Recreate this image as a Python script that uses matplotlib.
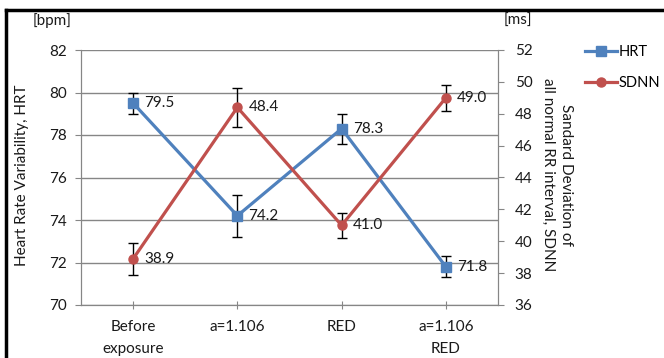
import numpy as np
import matplotlib.pyplot as plt
from matplotlib.lines import Line2D

plt.rcParams['font.family'] = ['Lato', 'DejaVu Sans']
plt.rcParams['font.size'] = 11

categories = ["Before\nexposure", "a=1.106", "RED", "a=1.106\nRED"]
hrt = [79.5, 74.2, 78.3, 71.8]
hrt_err = [0.5, 1.0, 0.7, 0.5]
sdnn = [38.9, 48.4, 41.0, 49.0]
sdnn_err = [1.0, 1.2, 0.8, 0.8]

blue = "#4F81BD"
red = "#C0504D"
grey = "#868686"
txt = "#1a1a1a"

fig = plt.figure(figsize=(6.64, 3.58), dpi=100)
ax = fig.add_axes([81/664, 53/358, 417/664, 255/358])
ax2 = ax.twinx()

x = np.arange(len(categories))

# HRT on the left axis
ax.errorbar(x, hrt, yerr=hrt_err, fmt='none', ecolor='black', elinewidth=1,
            capsize=3.5, capthick=1, zorder=3)
ax.plot(x, hrt, color=blue, lw=2.3, marker='s', ms=6.5, zorder=4)
for xi, v in zip(x, hrt):
    ax.annotate(f"{v:.1f}", (xi, v), xytext=(8, 0), textcoords='offset points',
                ha='left', va='center', color=txt)

# SDNN on the right axis
ax2.errorbar(x, sdnn, yerr=sdnn_err, fmt='none', ecolor='black', elinewidth=1,
             capsize=3.5, capthick=1, zorder=3)
ax2.plot(x, sdnn, color=red, lw=2.3, marker='o', ms=6.5, zorder=4)
for xi, v in zip(x, sdnn):
    ax2.annotate(f"{v:.1f}", (xi, v), xytext=(8, 0), textcoords='offset points',
                 ha='left', va='center', color=txt)

ax.set_xlim(-0.5, 3.5)
ax.set_ylim(70, 82)
ax.set_yticks(np.arange(70, 83, 2))
ax2.set_ylim(36, 52)
ax2.set_yticks(np.arange(36, 53, 2))

ax.set_xticks(x)
ax.set_xticklabels(categories, linespacing=1.7)
ax.yaxis.grid(True, color=grey, lw=1)
ax.set_axisbelow(True)

for a in (ax, ax2):
    a.spines['top'].set_visible(False)
    for s in ('left', 'right', 'bottom'):
        a.spines[s].set_color(grey)
ax.tick_params(axis='x', direction='inout', length=6, color=grey, pad=8, labelcolor=txt)
ax.tick_params(axis='y', direction='out', length=4, color=grey, pad=6, labelcolor=txt)
ax2.tick_params(axis='y', direction='out', length=4, color=grey, pad=8, labelcolor=txt)

fig.text(22/664, 1 - 175/358, "Heart Rate Variability, HRT", rotation=90,
         ha='center', va='center', color=txt)
fig.text(557/664, 1 - 175/358, "Sandard Deviation of\nall normal RR interval, SDNN",
         rotation=270, ha='center', va='center', multialignment='center',
         linespacing=1.3, color=txt)
fig.text(52/664, 1 - 21/358, "[bpm]", ha='center', va='center', color=txt)
fig.text(518/664, 1 - 21/358, "[ms]", ha='center', va='center', color=txt)

handles = [Line2D([], [], color=blue, lw=2.3, marker='s', ms=6.5),
           Line2D([], [], color=red, lw=2.3, marker='o', ms=6.5)]
fig.legend(handles, ["HRT", "SDNN"], loc='upper left', fontsize=10.5,
           bbox_to_anchor=(585/664, 1 - 45/358), frameon=False,
           handlelength=2.2, handletextpad=0.1, labelspacing=1.15,
           borderaxespad=0, borderpad=0)

# black frame on the left and top edges
fig.add_artist(Line2D([6/664, 6/664], [0, 1 - 10/358], color='black', lw=2.5,
                      transform=fig.transFigure))
fig.add_artist(Line2D([6/664, 1], [1 - 10/358, 1 - 10/358], color='black', lw=2.5,
                      transform=fig.transFigure))

fig.savefig("out.png", dpi=100)
